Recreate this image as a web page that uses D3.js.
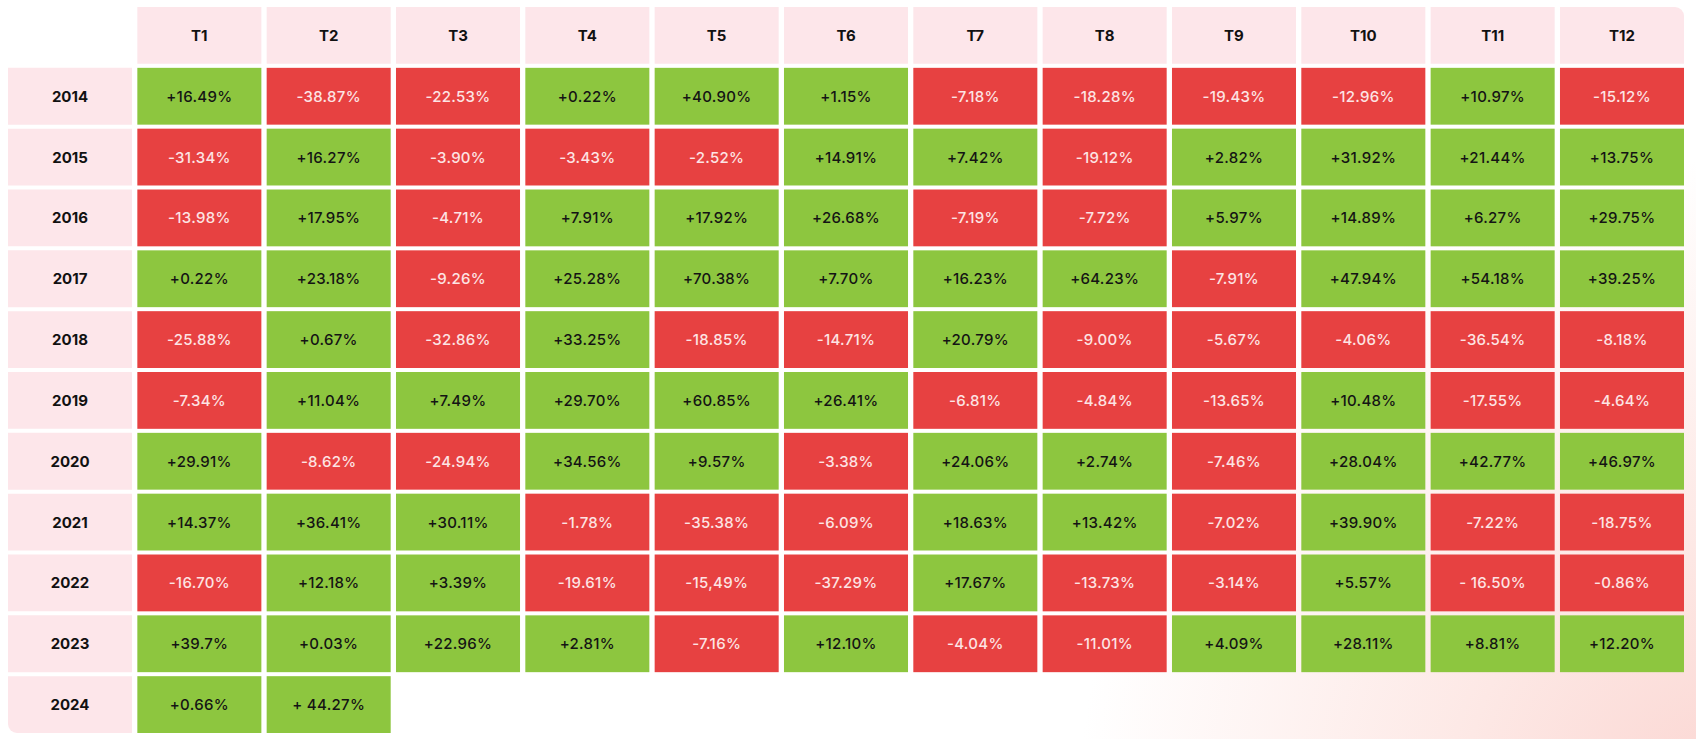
<!DOCTYPE html>
<html>
<head>
<meta charset="utf-8">
<script src="https://cdn.jsdelivr.net/npm/d3@7/dist/d3.min.js"></script>
<style>
  html, body { margin: 0; padding: 0; background: #ffffff; }
  svg { display: block; }
</style>
</head>
<body>
<svg id="chart" width="1696" height="739"></svg>
<script>
// ---- data ----
const months = ["T1","T2","T3","T4","T5","T6","T7","T8","T9","T10","T11","T12"];
const years = ["2014","2015","2016","2017","2018","2019","2020","2021","2022","2023","2024"];
const r2014 = ["+16.49%","-38.87%","-22.53%","+0.22%","+40.90%","+1.15%","-7.18%","-18.28%","-19.43%","-12.96%","+10.97%","-15.12%"];
const r2015 = ["-31.34%","+16.27%","-3.90%","-3.43%","-2.52%","+14.91%","+7.42%","-19.12%","+2.82%","+31.92%","+21.44%","+13.75%"];
const r2016 = ["-13.98%","+17.95%","-4.71%","+7.91%","+17.92%","+26.68%","-7.19%","-7.72%","+5.97%","+14.89%","+6.27%","+29.75%"];
const r2017 = ["+0.22%","+23.18%","-9.26%","+25.28%","+70.38%","+7.70%","+16.23%","+64.23%","-7.91%","+47.94%","+54.18%","+39.25%"];
const r2018 = ["-25.88%","+0.67%","-32.86%","+33.25%","-18.85%","-14.71%","+20.79%","-9.00%","-5.67%","-4.06%","-36.54%","-8.18%"];
const r2019 = ["-7.34%","+11.04%","+7.49%","+29.70%","+60.85%","+26.41%","-6.81%","-4.84%","-13.65%","+10.48%","-17.55%","-4.64%"];
const r2020 = ["+29.91%","-8.62%","-24.94%","+34.56%","+9.57%","-3.38%","+24.06%","+2.74%","-7.46%","+28.04%","+42.77%","+46.97%"];
const r2021 = ["+14.37%","+36.41%","+30.11%","-1.78%","-35.38%","-6.09%","+18.63%","+13.42%","-7.02%","+39.90%","-7.22%","-18.75%"];
const r2022 = ["-16.70%","+12.18%","+3.39%","-19.61%","-15,49%","-37.29%","+17.67%","-13.73%","-3.14%","+5.57%","- 16.50%","-0.86%"];
const r2023 = ["+39.7%","+0.03%","+22.96%","+2.81%","-7.16%","+12.10%","-4.04%","-11.01%","+4.09%","+28.11%","+8.81%","+12.20%"];
const r2024 = ["+0.66%","+ 44.27%"];
const rowsData = [r2014,r2015,r2016,r2017,r2018,r2019,r2020,r2021,r2022,r2023,r2024];

// ---- build cells ----
const cells = [];
years.forEach((y, i) => {
  rowsData[i].forEach((label, j) => {
    const v = parseFloat(label.replace(/\s/g, "").replace(",", "."));
    cells.push({ year: y, month: months[j], label, value: v });
  });
});

const svg = d3.select("#chart");
const W = 1696, H = 739;

// background gradient
const defs = svg.append("defs");
const rg = defs.append("radialGradient").attr("id", "bg")
  .attr("gradientUnits", "userSpaceOnUse")
  .attr("cx", 1720).attr("cy", 800).attr("r", 640);
rg.append("stop").attr("offset", "0%").attr("stop-color", "#fbd6d2");
rg.append("stop").attr("offset", "40%").attr("stop-color", "#fde8e5");
rg.append("stop").attr("offset", "100%").attr("stop-color", "#ffffff");
svg.append("rect").attr("width", W).attr("height", H).attr("fill", "#ffffff");
svg.append("rect").attr("width", W).attr("height", H).attr("fill", "url(#bg)");

// scales
const x = d3.scaleBand().domain(["", ...months]).range([8, 1684]).paddingInner(0.041).paddingOuter(0);
const y = d3.scaleBand().domain(["", ...years]).range([7, 733]).paddingInner(0.066).paddingOuter(0);
const color = d3.scaleOrdinal().domain(["pos", "neg"]).range(["#8dc63f", "#e74141"]);
const textColor = d3.scaleOrdinal().domain(["pos", "neg"]).range(["#141414", "#fde4e4"]);
const pink = "#fde6ea";
const font = "Inter, 'Noto Sans', sans-serif";

function roundedRect(x0, y0, w, h, r, corners) {
  const [tl, tr, br, bl] = corners.map(c => c ? r : 0);
  return `M${x0 + tl},${y0}H${x0 + w - tr}` +
    (tr ? `A${tr},${tr} 0 0 1 ${x0 + w},${y0 + tr}` : "") +
    `V${y0 + h - br}` +
    (br ? `A${br},${br} 0 0 1 ${x0 + w - br},${y0 + h}` : "") +
    `H${x0 + bl}` +
    (bl ? `A${bl},${bl} 0 0 1 ${x0},${y0 + h - bl}` : "") +
    `V${y0 + tl}` +
    (tl ? `A${tl},${tl} 0 0 1 ${x0 + tl},${y0}` : "") + "Z";
}

// header cells
const hdr = svg.append("g");
hdr.selectAll("path").data(months).join("path")
  .attr("d", (m, i) => roundedRect(x(m), y(""), x.bandwidth(), y.bandwidth(), 9, [false, i === months.length - 1, false, false]))
  .attr("fill", pink);
hdr.selectAll("text").data(months).join("text")
  .attr("x", m => x(m) + x.bandwidth() / 2)
  .attr("y", y("") + y.bandwidth() / 2)
  .attr("text-anchor", "middle").attr("dominant-baseline", "central")
  .attr("font-family", font).attr("font-weight", 700).attr("font-size", 15)
  .attr("fill", "#111").text(d => d);

// year label cells
const lbl = svg.append("g");
lbl.selectAll("path").data(years).join("path")
  .attr("d", (yy, i) => roundedRect(x(""), y(yy), x.bandwidth(), y.bandwidth(), 9, [false, false, false, i === years.length - 1]))
  .attr("fill", pink);
lbl.selectAll("text").data(years).join("text")
  .attr("x", x("") + x.bandwidth() / 2)
  .attr("y", yy => y(yy) + y.bandwidth() / 2)
  .attr("text-anchor", "middle").attr("dominant-baseline", "central")
  .attr("font-family", font).attr("font-weight", 700).attr("font-size", 15)
  .attr("fill", "#111").text(d => d);

// value cells
const sign = d => d.value < 0 ? "neg" : "pos";
const cg = svg.append("g").selectAll("g").data(cells).join("g");
cg.append("rect")
  .attr("x", d => x(d.month)).attr("y", d => y(d.year))
  .attr("width", x.bandwidth()).attr("height", y.bandwidth())
  .attr("fill", d => color(sign(d)));
cg.append("text")
  .attr("x", d => x(d.month) + x.bandwidth() / 2)
  .attr("y", d => y(d.year) + y.bandwidth() / 2)
  .attr("text-anchor", "middle").attr("dominant-baseline", "central")
  .attr("font-family", font).attr("font-weight", 500).attr("font-size", 15)
  .attr("letter-spacing", 0.3)
  .attr("fill", d => textColor(sign(d)))
  .text(d => d.label);
</script>
</body>
</html>
